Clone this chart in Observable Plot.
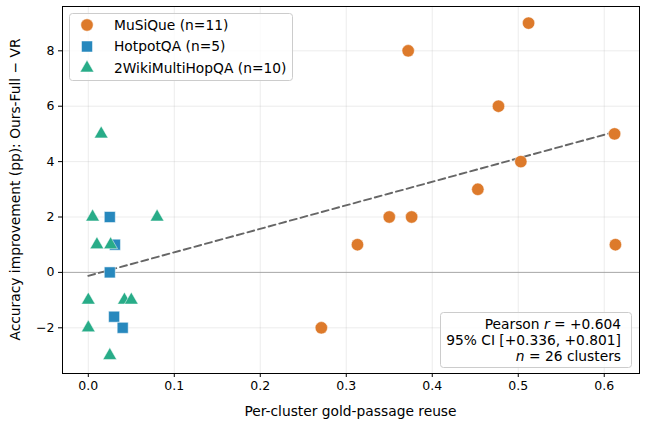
<!DOCTYPE html>
<html>
<head>
<meta charset="utf-8">
<script src="https://cdn.jsdelivr.net/npm/d3@7"></script>
<script src="https://cdn.jsdelivr.net/npm/@observablehq/plot@0.6"></script>
<style>
  html, body { margin: 0; padding: 0; background: #fff; }
  svg { font-family: "DejaVu Sans", sans-serif; }
</style>
</head>
<body>
<div id="chart"></div>
<script>
const musiqueX = [0.271, 0.313, 0.350, 0.376, 0.372, 0.453, 0.477, 0.503, 0.512, 0.612, 0.613];
const musiqueY = [-2, 1, 2, 2, 8, 3, 6, 4, 9, 5, 1];
const hotpotX = [0.025, 0.031, 0.025, 0.030, 0.040];
const hotpotY = [2, 1, 0, -1.6, -2];
const wikiX = [0.015, 0.005, 0.080, 0.010, 0.026, 0.000, 0.042, 0.050, 0.000, 0.025];
const wikiY = [5, 2, 2, 1, 1, -1, -1, -1, -2, -3];
const seriesNames = ["MuSiQue (n=11)", "HotpotQA (n=5)", "2WikiMultiHopQA (n=10)"];
const seriesColors = ["#dd7a2b", "#2788bd", "#28ac88"];
const xTicks = [0, 0.1, 0.2, 0.3, 0.4, 0.5, 0.6];
const yTicks = [-2, 0, 2, 4, 6, 8];
const statsLines = ["Pearson r = +0.604", "95% CI [+0.336, +0.801]", "n = 26 clusters"];

const mk = (xs, ys) => xs.map((x, i) => ({x, y: ys[i]}));
const musique = mk(musiqueX, musiqueY);
const hotpot = mk(hotpotX, hotpotY);
const wiki = mk(wikiX, wikiY);
const all = [...musique, ...hotpot, ...wiki];

const W = 647, H = 427;
const mL = 62, mR = 8, mT = 6, mB = 54;
const FS = 13.8;
const rC = 6.2, rS = 6.2, rT = 5.1;

const fmtMinus = d => (d < 0 ? "\u2212" + Math.abs(d) : String(d));

const chart = Plot.plot({
  width: W, height: H,
  marginLeft: mL, marginRight: mR, marginTop: mT, marginBottom: mB,
  style: {fontFamily: "DejaVu Sans", fontSize: "12px", background: "#fff", color: "#000"},
  x: {domain: [-0.030, 0.641], ticks: xTicks, tickFormat: d3.format(".1f"), label: null},
  y: {domain: [-3.65, 9.6], ticks: yTicks, tickFormat: fmtMinus, label: null},
  marks: [
    Plot.gridX(xTicks, {stroke: "#b0b0b0", strokeOpacity: 0.3, strokeWidth: 0.8}),
    Plot.gridY(yTicks, {stroke: "#b0b0b0", strokeOpacity: 0.3, strokeWidth: 0.8}),
    Plot.ruleY([0], {stroke: "#999", strokeOpacity: 0.8, strokeWidth: 1}),
    Plot.linearRegressionY(all, {x: "x", y: "y", ci: 0, stroke: "#666", strokeWidth: 1.9, strokeDasharray: "7,4"}),
    Plot.dot(musique, {x: "x", y: "y", r: rC, symbol: "circle", fill: seriesColors[0], stroke: "#fff", strokeWidth: 0.5}),
    Plot.dot(hotpot, {x: "x", y: "y", r: rS, symbol: "square", fill: seriesColors[1], stroke: "#fff", strokeWidth: 0.5}),
    Plot.dot(wiki, {x: "x", y: "y", r: rT, symbol: "triangle", fill: seriesColors[2], stroke: "#fff", strokeWidth: 0.5}),
    Plot.axisX(xTicks, {tickSize: 4, tickPadding: 4, tickFormat: d3.format(".1f"), fontSize: 12.5, label: null}),
    Plot.axisY(yTicks, {tickSize: 4, tickPadding: 4, tickFormat: fmtMinus, fontSize: 12.5, label: null}),
    Plot.frame({stroke: "#000", strokeWidth: 1})
  ]
});

const svg = d3.select(chart);
// axis titles
svg.append("text")
  .attr("x", mL + (W - mL - mR) / 2).attr("y", 416)
  .attr("text-anchor", "middle").attr("font-size", FS).attr("fill", "#000")
  .text("Per-cluster gold-passage reuse");
svg.append("text")
  .attr("transform", `translate(20, ${mT + (H - mT - mB) / 2}) rotate(-90)`)
  .attr("text-anchor", "middle").attr("font-size", FS).attr("fill", "#000")
  .text("Accuracy improvement (pp): Ours-Full \u2212 VR");

// legend
const lg = svg.append("g");
lg.append("rect").attr("x", 69.5).attr("y", 13.5).attr("width", 223).attr("height", 67)
  .attr("rx", 3).attr("fill", "#fff").attr("fill-opacity", 0.8).attr("stroke", "#ccc");
const syms = [d3.symbolCircle, d3.symbolSquare, d3.symbolTriangle];
const sizes = [Math.PI * rC * rC, Math.PI * rS * rS, Math.PI * rT * rT];
seriesNames.forEach((name, i) => {
  const cy = 25 + i * 21.5;
  lg.append("path").attr("d", d3.symbol(syms[i], sizes[i])())
    .attr("transform", `translate(87,${cy})`).attr("fill", seriesColors[i]).attr("stroke", "#fff").attr("stroke-width", 0.5);
  lg.append("text").attr("x", 114).attr("y", cy).attr("dy", "0.35em")
    .attr("text-anchor", "start")
    .attr("font-size", FS).attr("fill", "#000").text(name);
});

// stats box
const sb = svg.append("g").attr("text-anchor", "end");
sb.append("rect").attr("x", 440.5).attr("y", 312.5).attr("width", 191).attr("height", 55)
  .attr("rx", 3).attr("fill", "#fff").attr("fill-opacity", 0.8).attr("stroke", "#ccc");
const t1 = sb.append("text").attr("x", 621).attr("y", 329).attr("text-anchor", "end").attr("font-size", FS).attr("fill", "#000");
t1.append("tspan").text("Pearson ");
t1.append("tspan").attr("font-style", "italic").text("r");
t1.append("tspan").text(" = +0.604");
sb.append("text").attr("x", 621).attr("y", 345).attr("text-anchor", "end").attr("font-size", FS).attr("fill", "#000").text(statsLines[1]);
const t3 = sb.append("text").attr("x", 621).attr("y", 361).attr("text-anchor", "end").attr("font-size", FS).attr("fill", "#000");
t3.append("tspan").attr("font-style", "italic").text("n");
t3.append("tspan").text(" = 26 clusters");

document.getElementById("chart").appendChild(chart);
</script>
</body>
</html>
